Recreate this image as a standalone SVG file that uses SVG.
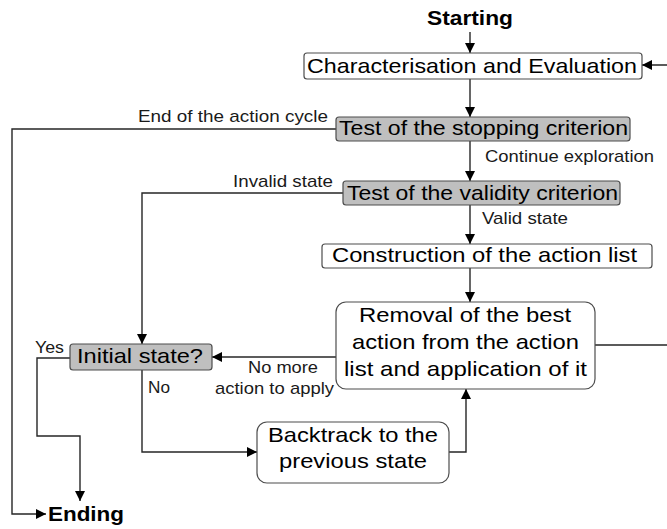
<svg xmlns="http://www.w3.org/2000/svg" width="667" height="529" viewBox="0 0 667 529">
<style>
  .box{stroke:#4d4d4d;stroke-width:1.2;fill:#ffffff}
  .gray{fill:#bfbfbf}
  .t{font-family:"Liberation Sans",Arial,sans-serif;font-size:21px;fill:#000}
  .lbl{font-family:"Liberation Sans",Arial,sans-serif;font-size:17px;fill:#1a1a1a}
  .b{font-family:"Liberation Sans",Arial,sans-serif;font-size:21px;font-weight:bold;fill:#000}
  .c{fill:none;stroke:#262626;stroke-width:1.4}
</style>
<defs>
  <marker id="ah" markerUnits="userSpaceOnUse" markerWidth="10" markerHeight="10" viewBox="0 0 10 10" refX="10" refY="5" orient="auto">
    <path d="M0,0 L10,5 L0,10 z" fill="#000"/>
  </marker>
</defs>
<rect width="667" height="529" fill="#fff"/>

<g id="connectors">
  <path class="c" d="M470,32 V53" marker-end="url(#ah)"/>
  <path class="c" d="M595,345 H672 V65 H642" marker-end="url(#ah)"/>
  <path class="c" d="M470,79 V117" marker-end="url(#ah)"/>
  <path class="c" d="M336,129 H12 V514 H46" marker-end="url(#ah)"/>
  <path class="c" d="M470,141 V181" marker-end="url(#ah)"/>
  <path class="c" d="M343,193 H142 V344" marker-end="url(#ah)"/>
  <path class="c" d="M470,205 V244" marker-end="url(#ah)"/>
  <path class="c" d="M470,268 V302" marker-end="url(#ah)"/>
  <path class="c" d="M336,357 H212" marker-end="url(#ah)"/>
  <path class="c" d="M70,358 H37 V436 H80 V501" marker-end="url(#ah)"/>
  <path class="c" d="M142,370 V452 H257" marker-end="url(#ah)"/>
  <path class="c" d="M449,452 H466 V389" marker-end="url(#ah)"/>
  <text class="lbl" x="138" y="122" textLength="190" lengthAdjust="spacingAndGlyphs">End of the action cycle</text>
  <text class="lbl" x="485" y="162" textLength="169" lengthAdjust="spacingAndGlyphs">Continue exploration</text>
  <text class="lbl" x="233" y="187" textLength="100" lengthAdjust="spacingAndGlyphs">Invalid state</text>
  <text class="lbl" x="482" y="224" textLength="86" lengthAdjust="spacingAndGlyphs">Valid state</text>
  <text class="lbl" x="35" y="353" textLength="29" lengthAdjust="spacingAndGlyphs">Yes</text>
  <text class="lbl" x="148" y="393" textLength="22" lengthAdjust="spacingAndGlyphs">No</text>
  <text class="lbl" x="248" y="373" textLength="70" lengthAdjust="spacingAndGlyphs">No more</text>
  <text class="lbl" x="215" y="394" textLength="119" lengthAdjust="spacingAndGlyphs">action to apply</text>
</g>

<g id="starting">
  <text class="b" x="427" y="25" textLength="86" lengthAdjust="spacingAndGlyphs">Starting</text>
</g>
<g id="characterisation">
  <rect class="box" x="304" y="53" width="338" height="26" rx="3"/>
  <text class="t" x="307" y="73" textLength="330" lengthAdjust="spacingAndGlyphs">Characterisation and Evaluation</text>
</g>
<g id="stopping">
  <rect class="box gray" x="336" y="117" width="294" height="24" rx="3"/>
  <text class="t" x="339" y="135" textLength="289" lengthAdjust="spacingAndGlyphs">Test of the stopping criterion</text>
</g>
<g id="validity">
  <rect class="box gray" x="343" y="181" width="277" height="24" rx="3"/>
  <text class="t" x="347" y="200" textLength="271" lengthAdjust="spacingAndGlyphs">Test of the validity criterion</text>
</g>
<g id="construction">
  <rect class="box" x="322" y="244" width="330" height="24" rx="3"/>
  <text class="t" x="332" y="262" textLength="305" lengthAdjust="spacingAndGlyphs">Construction of the action list</text>
</g>
<g id="removal">
  <rect class="box" x="336" y="302" width="259" height="87" rx="10"/>
  <text class="t" x="359" y="322" textLength="212" lengthAdjust="spacingAndGlyphs">Removal of the best</text>
  <text class="t" x="352" y="349" textLength="227" lengthAdjust="spacingAndGlyphs">action from the action</text>
  <text class="t" x="344" y="376" textLength="243" lengthAdjust="spacingAndGlyphs">list and application of it</text>
</g>
<g id="initial">
  <rect class="box gray" x="70" y="344" width="142" height="26" rx="3"/>
  <text class="t" x="77" y="363" textLength="126" lengthAdjust="spacingAndGlyphs">Initial state?</text>
</g>
<g id="backtrack">
  <rect class="box" x="257" y="422" width="192" height="61" rx="10"/>
  <text class="t" x="268" y="442" textLength="170" lengthAdjust="spacingAndGlyphs">Backtrack to the</text>
  <text class="t" x="279" y="468" textLength="148" lengthAdjust="spacingAndGlyphs">previous state</text>
</g>
<g id="ending">
  <text class="b" x="48" y="521" textLength="76" lengthAdjust="spacingAndGlyphs">Ending</text>
</g>
</svg>
